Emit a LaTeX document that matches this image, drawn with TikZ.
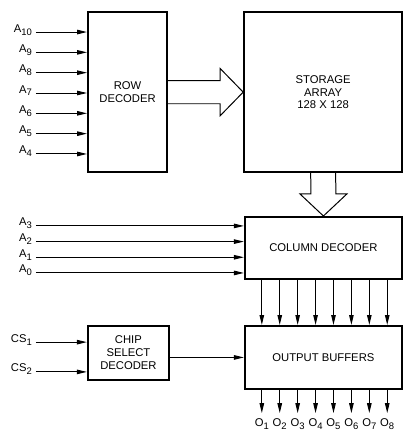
\documentclass[tikz,border=0pt]{standalone}
\usepackage{fontspec}
\setmainfont{Liberation Sans}
\usetikzlibrary{arrows.meta}
\newcommand{\blockfont}{\fontsize{11.3}{13}\selectfont}
\newcommand{\idx}[1]{\raisebox{-3pt}{\fontsize{9.5}{10}\selectfont #1}}
\tikzset{
  blockbox/.style={
    draw,
    line width=2pt,
    align=center,
    inner sep=2pt,
    font=\blockfont
  },
  pinlabel/.style={
    anchor=base east,
    inner xsep=4pt,
    inner ysep=1pt,
    font=\blockfont
  },
  outlabel/.style={
    anchor=base,
    inner sep=1pt,
    font=\blockfont
  },
  sigarrow/.style={
    -{Triangle[length=10pt,width=4.5pt]},
    line width=1pt
  },
  busarrow/.style={
    draw,
    line width=1pt,
    fill=white,
    line join=miter
  }
}

\begin{document}
\begin{tikzpicture}
    \useasboundingbox (0,0) rectangle (14.323,-15.205);

    \node[blockbox, minimum width=2.79cm, minimum height=5.64cm] (rowdec) at (4.50,-3.25) {ROW\\DECODER};
    \node[blockbox, minimum width=5.57cm, minimum height=5.64cm] (storage) at (11.40,-3.25) {STORAGE\\ARRAY\\128 X 128};
    \node[blockbox, minimum width=5.54cm, minimum height=2.19cm] (coldec) at (11.41,-8.75) {COLUMN DECODER};
    \node[blockbox, minimum width=5.54cm, minimum height=2.22cm] (outbuf) at (11.41,-12.61) {OUTPUT BUFFERS};
    \node[blockbox, minimum width=2.86cm, minimum height=1.91cm] (chipsel) at (4.53,-12.45) {CHIP\\SELECT\\DECODER};

    \foreach \n [count=\i from 0] in {10,9,8,7,6,5,4} {
        \node[pinlabel] (a\n) at (1.27,{-1.13-0.717*\i}) {A\idx{\n}};
        \draw[sigarrow] (a\n.base east) -- (a\n.base east -| rowdec.west);
    }
    \foreach \n [count=\i from 0] in {3,2,1,0} {
        \node[pinlabel] (a\n) at (1.27,{-7.97-0.553*\i}) {A\idx{\n}};
        \draw[sigarrow] (a\n.base east) -- (a\n.base east -| coldec.west);
    }
    \node[pinlabel] (cs1) at (1.27,-12.07) {CS\idx{1}};
    \node[pinlabel] (cs2) at (1.27,-13.12) {CS\idx{2}};
    \draw[sigarrow] (cs1.base east) -- (cs1.base east -| chipsel.west);
    \draw[sigarrow] (cs2.base east) -- (cs2.base east -| chipsel.west);
    \draw[sigarrow] (chipsel.east |- outbuf.west) -- (outbuf.west);

    \draw[busarrow] ([yshift=0.41cm]rowdec.east) -- ([xshift=-0.81cm,yshift=0.41cm]storage.west) -- ++(0,0.42)
        -- (storage.west) -- ([xshift=-0.81cm,yshift=-0.83cm]storage.west) -- ++(0,0.42) -- ([yshift=-0.41cm]rowdec.east);
    \draw[busarrow] ([xshift=-0.44cm]storage.south) -- ([xshift=-0.44cm,yshift=0.78cm]coldec.north) -- ++(-0.39,0)
        -- (coldec.north) -- ([xshift=0.83cm,yshift=0.78cm]coldec.north) -- ++(-0.39,0) -- ([xshift=0.44cm]storage.south);

    \foreach \k in {1,...,8} {
        \draw[sigarrow] ([xshift={\k*0.632cm}]coldec.south west) -- ([xshift={\k*0.632cm}]outbuf.north west);
        \draw[sigarrow] ([xshift={\k*0.632cm}]outbuf.south west) -- ++(0,-0.82) coordinate (out\k);
        \node[outlabel] (o\k) at ([yshift=-0.47cm]out\k) {O\idx{\k}};
    }
\end{tikzpicture}
\end{document}
